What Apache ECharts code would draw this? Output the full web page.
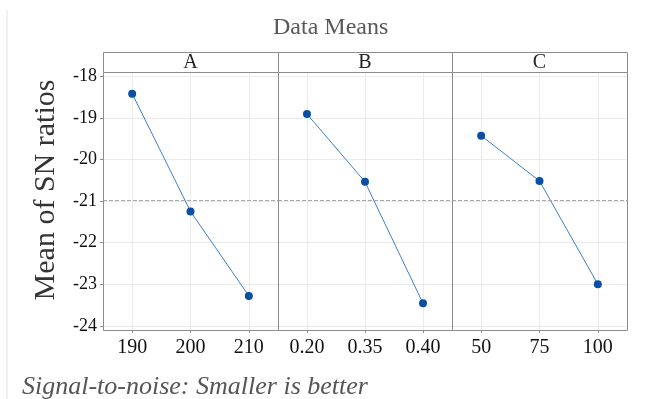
<!DOCTYPE html>
<html>
<head>
<meta charset="utf-8">
<script src="https://cdn.jsdelivr.net/npm/echarts@6/dist/echarts.min.js"></script>
<style>
html, body { margin: 0; padding: 0; background: #fff; }
#chart { width: 647px; height: 399px; }
</style>
</head>
<body>
<div id="chart"></div>
<script>
// factor names and their levels (tick labels)
var factors = ['A', 'B', 'C'];
var levelsA = ['190', '200', '210'];
var levelsB = ['0.20', '0.35', '0.40'];
var levelsC = ['50', '75', '100'];
// mean of SN ratios per level
var meansA = [-18.42, -21.25, -23.28];
var meansB = [-18.91, -20.54, -23.46];
var meansC = [-19.43, -20.52, -23.00];
var overallMean = -20.98;

var levels = [levelsA, levelsB, levelsC];
var means = [meansA, meansB, meansC];

var dom = document.getElementById('chart');
var myChart = echarts.init(dom);
var serif = '"Liberation Serif", "Times New Roman", serif';

var plotLeft = 103, plotTop = 72, plotH = 258, panelW = 174.5, stripTop = 52, stripH = 20;
var frame = '#8c8c8c';

var grids = [], xAxes = [], yAxes = [], series = [], graphics = [];

// light rule on the left edge
graphics.push({
    type: 'line',
    shape: { x1: 7, y1: 10, x2: 7, y2: 399 },
    style: { stroke: '#e2e2e2', lineWidth: 1 }
});

factors.forEach(function (f, i) {
    var left = Math.round(plotLeft + i * panelW);
    var right = Math.round(plotLeft + (i + 1) * panelW);
    grids.push({
        left: left, top: plotTop, width: right - left, height: plotH,
        show: false
    });
    xAxes.push({
        type: 'value', gridIndex: i,
        min: 0.5, max: 3.5, splitNumber: 3,
        axisLine: { show: false },
        axisTick: { show: true, length: 3, lineStyle: { color: frame } },
        splitLine: { show: true, lineStyle: { color: '#ebebeb', width: 1 } },
        axisLabel: {
            showMinLabel: false, showMaxLabel: false,
            fontFamily: serif, fontSize: 20, color: '#111', margin: 8,
            formatter: function (v) { return levels[i][v - 1] || ''; }
        }
    });
    yAxes.push({
        type: 'value', gridIndex: i,
        min: -24.1, max: -17.9, splitNumber: 6,
        axisLine: { show: false },
        axisTick: { show: i === 0, length: 3, lineStyle: { color: frame } },
        splitLine: { show: true, lineStyle: { color: '#ebebeb', width: 1 } },
        axisLabel: {
            show: i === 0, showMinLabel: false, showMaxLabel: false,
            fontFamily: serif, fontSize: 18, color: '#111', margin: 6
        }
    });
    series.push({
        type: 'line', xAxisIndex: i, yAxisIndex: i,
        data: means[i].map(function (v, j) { return [j + 1, v]; }),
        symbol: 'circle', symbolSize: 8,
        lineStyle: { color: '#3f7fc6', width: 1 },
        itemStyle: { color: '#0a4fa3' },
        markLine: {
            silent: true, symbol: 'none',
            label: { show: false },
            lineStyle: { color: '#a8a8a8', type: 'dashed', width: 1 },
            data: [{ yAxis: overallMean }]
        }
    });
    // panel frame on top of grid lines
    graphics.push({
        type: 'rect', z: 100,
        shape: { x: left + 0.5, y: plotTop + 0.5, width: right - left, height: plotH },
        style: { fill: 'none', stroke: frame, lineWidth: 1 }
    });
    // facet strip
    graphics.push({
        type: 'rect', z: 100,
        shape: { x: left + 0.5, y: stripTop + 0.5, width: right - left, height: stripH },
        style: { fill: '#fff', stroke: frame, lineWidth: 1 }
    });
    graphics.push({
        type: 'text', z: 101,
        x: (left + right) / 2, y: stripTop + stripH / 2 + 1,
        style: {
            text: f, font: '20px ' + serif, fill: '#222',
            textAlign: 'center', textVerticalAlign: 'middle'
        }
    });
});

// y axis title
graphics.push({
    type: 'text',
    x: 46, y: 190, rotation: Math.PI / 2,
    style: {
        text: 'Mean of SN ratios',
        font: '30px ' + serif, fill: '#333',
        textAlign: 'center', textVerticalAlign: 'middle'
    }
});

graphics.push({
    type: 'text',
    x: 22, y: 387,
    style: {
        text: 'Signal-to-noise: Smaller is better',
        font: 'italic 26px ' + serif, fill: '#555',
        textAlign: 'left', textVerticalAlign: 'middle'
    }
});

var option = {
    animation: false,
    backgroundColor: '#fff',
    title: {
        text: 'Data Means',
        left: 268, top: 11,
        textStyle: { fontFamily: serif, fontSize: 24, fontWeight: 'normal', color: '#595959' }
    },
    grid: grids,
    xAxis: xAxes,
    yAxis: yAxes,
    series: series,
    graphic: graphics
};

myChart.setOption(option, true);
</script>
</body>
</html>
